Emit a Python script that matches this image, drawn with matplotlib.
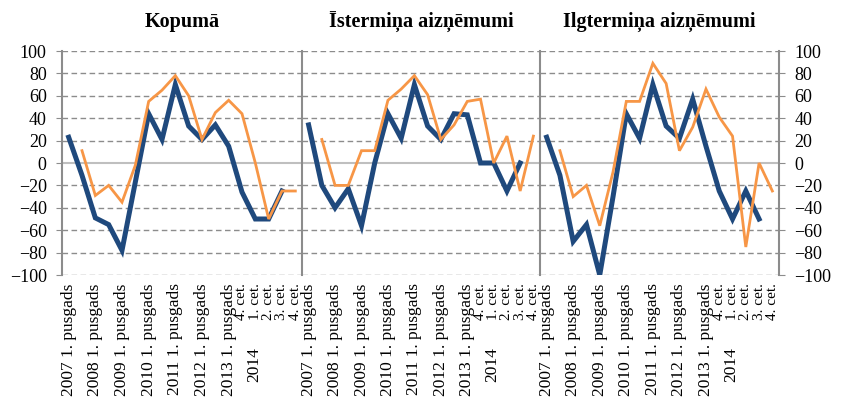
import numpy as np
import matplotlib
matplotlib.use("Agg")
import matplotlib.pyplot as plt

nan = np.nan
plt.rcParams['font.family'] = ['Liberation Serif', 'DejaVu Serif']

titles = ["Kopumā", "Īstermiņa aizņēmumi", "Ilgtermiņa aizņēmumi"]

tick_labels = ["2007 1. pusgads", "", "2008 1. pusgads", "", "2009 1. pusgads", "",
               "2010 1. pusgads", "", "2011 1. pusgads", "", "2012 1. pusgads", "",
               "2013 1. pusgads", "4. cet.", "1. cet.", "2. cet.", "3. cet.", "4. cet."]
year_2014 = "2014"

# dark blue series (actual) and orange series (expected), per panel
kop_blue = [23, -11, -49, -55, -78, -17, 44, 21, 70, 33, 21, 34, 15, -26, -50, -50, -25, nan]
kop_orange = [nan, 11, -29, -20, -35, -2, 55, 65, 78, 60, 21, 45, 56, 44, 0, -50, -25, -25]

ist_blue = [34, -20, -40, -23, -56, 0, 44, 22, 70, 33, 21, 44, 43, 0, 0, -25, 0, nan]
ist_orange = [nan, 21, -20, -20, 11, 11, 56, 66, 78, 61, 21, 34, 55, 57, 0, 24, -25, 24]

ilg_blue = [23, -11, -70, -55, -100, -30, 44, 22, 70, 33, 22, 57, 15, -25, -50, -25, -50, nan]
ilg_orange = [nan, 11, -30, -20, -56, -8, 55, 55, 89, 71, 11, 32, 66, 41, 24, -75, 0, -25]

panels = [(kop_blue, kop_orange), (ist_blue, ist_orange), (ilg_blue, ilg_orange)]

BLUE = "#1F497D"
ORANGE = "#F79646"
GRID = "#8C8C8C"

W, H = 841, 405
fig = plt.figure(figsize=(W / 100, H / 100), dpi=100)

lefts = [62, 302, 540]
widths = [240, 238, 239]
bottom_px, top_px = 275, 51

yticks = np.arange(-100, 101, 20)
x = np.arange(len(tick_labels))

for k, ((b, o), title) in enumerate(zip(panels, titles)):
    ax = fig.add_axes([lefts[k] / W, (H - bottom_px) / H, widths[k] / W, (bottom_px - top_px) / H])
    ax.set_xlim(-0.5, len(tick_labels) - 0.5)
    ax.set_ylim(-100, 100)
    for yv in yticks:
        if yv == 0:
            ax.axhline(0, color="#BFBFBF", lw=1.5, zorder=1)
        else:
            ax.axhline(yv, color=GRID, lw=1.0, ls=(0, (4, 2.5)), zorder=1)
    ax.plot(x, b, color=BLUE, lw=3.6, solid_joinstyle="miter", zorder=3)
    ax.plot(x, o, color=ORANGE, lw=2.0, solid_joinstyle="miter", zorder=4)

    for s in ["top", "bottom"]:
        ax.spines[s].set_visible(False)
    for s in ["left", "right"]:
        ax.spines[s].set_color("#8C8C8C")
        ax.spines[s].set_linewidth(1.5)
    if k != 2:
        ax.spines["right"].set_visible(False)

    ax.set_yticks(yticks)
    if k == 0:
        ax.tick_params(axis="y", left=True, right=False, labelleft=True, labelright=False,
                       length=4, color=GRID, pad=7, labelsize=13)
    elif k == 2:
        ax.tick_params(axis="y", left=False, right=True, labelleft=False, labelright=True,
                       length=4, color=GRID, pad=7, labelsize=13)
    else:
        ax.tick_params(axis="y", left=False, right=False, labelleft=False, labelright=False)

    ax.set_xticks(x)
    ax.set_xticklabels(tick_labels, rotation=90, va="top", ha="center", fontsize=12.5)
    for lbl in ax.get_xticklabels()[13:]:
        lbl.set_fontsize(11)
    ax.tick_params(axis="x", length=0, pad=6)
    ax.annotate(year_2014, xy=(14, 0), xycoords=("data", "axes fraction"),
                xytext=(-1, -52), textcoords="offset points",
                rotation=90, va="top", ha="center", fontsize=12.5, annotation_clip=False)

    cx = (lefts[k] + widths[k] / 2) / W
    fig.text(cx, (H - 22) / H, title, ha="center", va="center", fontsize=14.5, fontweight="bold")

fig.savefig("out.png", dpi=100)
